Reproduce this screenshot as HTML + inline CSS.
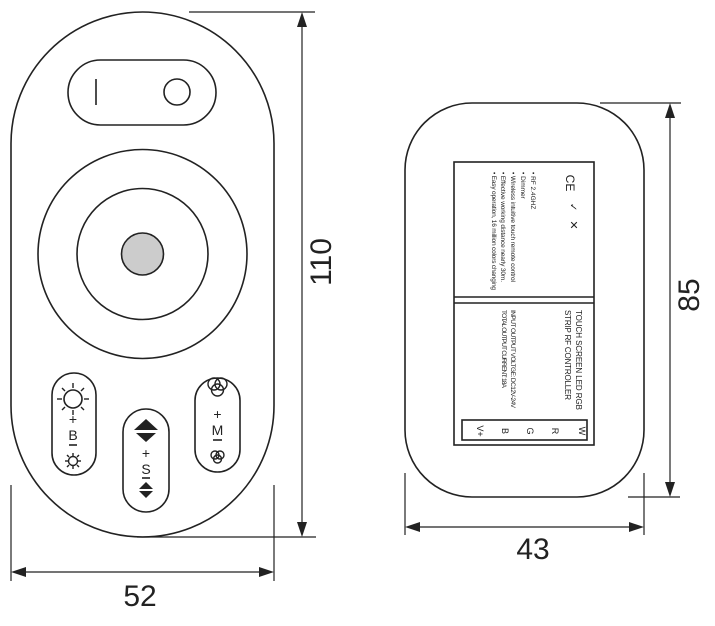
<!DOCTYPE html>
<html><head><meta charset="utf-8"><style>
html,body{margin:0;padding:0;background:#fff;width:715px;height:626px;overflow:hidden}
svg{display:block}
text{font-family:"Liberation Sans",sans-serif;fill:#222}
</style></head><body>
<svg width="715" height="626" viewBox="0 0 715 626" xmlns="http://www.w3.org/2000/svg">
<g fill="none" stroke="#222" stroke-width="1.6">
<rect x="11" y="12" width="263" height="525" rx="131.5" ry="131.5"/>
<rect x="68" y="60" width="148" height="65" rx="32.5"/>
<line x1="96" y1="79" x2="96" y2="105"/>
<circle cx="177" cy="92" r="13"/>
<circle cx="142.5" cy="254" r="104.5"/>
<circle cx="142.5" cy="254" r="65.5"/>
<circle cx="142.5" cy="254" r="21" fill="#cccccc"/>
<rect x="52" y="373" width="44" height="102" rx="22"/>
<rect x="195" y="378" width="45" height="94" rx="22.5"/>
<rect x="123" y="409" width="46" height="103" rx="23"/>
<circle cx="73" cy="399" r="9"/>
<circle cx="73" cy="461" r="4.5" stroke-width="1.4"/>
</g>
<g stroke="#222" stroke-width="1.4">
<line x1="73" y1="383" x2="73" y2="388"/><line x1="73" y1="410" x2="73" y2="415"/>
<line x1="57" y1="399" x2="62" y2="399"/><line x1="84" y1="399" x2="89" y2="399"/>
<line x1="62" y1="388" x2="65" y2="391"/><line x1="81" y1="407" x2="84" y2="410"/>
<line x1="84" y1="388" x2="81" y2="391"/><line x1="65" y1="407" x2="62" y2="410"/>
<line x1="73" y1="453" x2="73" y2="456"/><line x1="73" y1="466" x2="73" y2="469"/>
<line x1="65" y1="461" x2="68" y2="461"/><line x1="78" y1="461" x2="81" y2="461"/>
<line x1="67" y1="455" x2="69" y2="457"/><line x1="77" y1="465" x2="79" y2="467"/>
<line x1="79" y1="455" x2="77" y2="457"/><line x1="69" y1="465" x2="67" y2="467"/>
</g>
<text x="73" y="424" font-size="14" text-anchor="middle">+</text>
<text x="73" y="440" font-size="14" text-anchor="middle">B</text>
<line x1="69" y1="445" x2="77" y2="445" stroke="#222" stroke-width="1.6"/>
<g fill="none" stroke="#222" stroke-width="1.4">
<circle cx="214" cy="384" r="6"/><circle cx="221" cy="384" r="6"/><circle cx="217.5" cy="390" r="6"/>
<circle cx="215" cy="455" r="4"/><circle cx="220" cy="455" r="4"/><circle cx="217.5" cy="459" r="4"/>
</g>
<text x="217.5" y="419" font-size="14" text-anchor="middle">+</text>
<text x="217.5" y="435" font-size="14" text-anchor="middle">M</text>
<line x1="213" y1="440" x2="222" y2="440" stroke="#222" stroke-width="1.6"/>
<polygon points="146,419 158,430 134,430" fill="#222"/>
<polygon points="136,433 156,433 146,442" fill="#222"/>
<text x="146" y="458" font-size="14" text-anchor="middle">+</text>
<text x="146" y="474" font-size="14" text-anchor="middle">S</text>
<line x1="142" y1="478" x2="150" y2="478" stroke="#222" stroke-width="1.6"/>
<polygon points="146,482 153,489 139,489" fill="#222"/>
<polygon points="139,491 153,491 146,498" fill="#222"/>
<g stroke="#222" stroke-width="1.2">
<line x1="189" y1="12" x2="315" y2="12"/>
<line x1="137" y1="537" x2="316" y2="537"/>
<line x1="302" y1="25" x2="302" y2="524"/>
<line x1="11" y1="485" x2="11" y2="581"/>
<line x1="274" y1="485" x2="274" y2="581"/>
<line x1="24" y1="572" x2="261" y2="572"/>
</g>
<polygon points="302,12 297,27 307,27" fill="#222"/>
<polygon points="302,537 297,522 307,522" fill="#222"/>
<polygon points="11,572 26,567 26,577" fill="#222"/>
<polygon points="274,572 259,567 259,577" fill="#222"/>
<text x="140" y="606" font-size="30" text-anchor="middle">52</text>
<text transform="translate(331,262) rotate(-90)" font-size="30" text-anchor="middle">110</text>
<g fill="none" stroke="#222" stroke-width="1.6">
<rect x="405" y="103" width="239" height="394" rx="67"/>
<rect x="454" y="162" width="140" height="283"/>
<line x1="454" y1="297" x2="594" y2="297"/>
<line x1="454" y1="303" x2="594" y2="303"/>
<rect x="462" y="420" width="125" height="20"/>
</g>
<g font-size="9">
<text transform="translate(579,431) rotate(90)" text-anchor="middle">W</text>
<text transform="translate(552,431) rotate(90)" text-anchor="middle">R</text>
<text transform="translate(527,431) rotate(90)" text-anchor="middle">G</text>
<text transform="translate(502,431) rotate(90)" text-anchor="middle">B</text>
<text transform="translate(477,431) rotate(90)" text-anchor="middle">V+</text>
</g>
<g font-size="8">
<text transform="translate(576,310) rotate(90)" textLength="100">TOUCH SCREEN LED RGB</text>
<text transform="translate(565,310) rotate(90)" textLength="90">STRIP RF CONTROLLER</text>
<text transform="translate(511,310) rotate(90)" font-size="6.5" textLength="98">INPUT OUTPUT VOLTGE: DC12V-24V</text>
<text transform="translate(502,310) rotate(90)" font-size="6.5" textLength="78">TOTAL OUTPUT CURRENT: 18A</text>
</g>
<g font-size="6.5">
<text transform="translate(531,172) rotate(90)">• RF 2.4GHZ</text>
<text transform="translate(521,172) rotate(90)">• Dimmer</text>
<text transform="translate(511,172) rotate(90)" textLength="110">• Wireless intuitive touch remote control</text>
<text transform="translate(501,172) rotate(90)" textLength="110">• Effective working distance nearly 30m.</text>
<text transform="translate(492,172) rotate(90)" textLength="118">• Easy operation, 16 million colors changing</text>
</g>
<text transform="translate(566,183) rotate(90)" font-size="12" text-anchor="middle">CE</text>
<text transform="translate(570,207) rotate(90)" font-size="10" text-anchor="middle">✓</text>
<text transform="translate(570,225) rotate(90)" font-size="11" text-anchor="middle">✕</text>
<g stroke="#222" stroke-width="1.2">
<line x1="600" y1="103" x2="681" y2="103"/>
<line x1="628" y1="497" x2="680" y2="497"/>
<line x1="670" y1="116" x2="670" y2="484"/>
<line x1="405" y1="473" x2="405" y2="535"/>
<line x1="644" y1="473" x2="644" y2="535"/>
<line x1="418" y1="527" x2="631" y2="527"/>
</g>
<polygon points="670,103 665,118 675,118" fill="#222"/>
<polygon points="670,497 665,482 675,482" fill="#222"/>
<polygon points="405,527 420,522 420,532" fill="#222"/>
<polygon points="644,527 629,522 629,532" fill="#222"/>
<text x="533" y="559" font-size="30" text-anchor="middle">43</text>
<text transform="translate(699,295) rotate(-90)" font-size="30" text-anchor="middle">85</text>
</svg>
</body></html>
